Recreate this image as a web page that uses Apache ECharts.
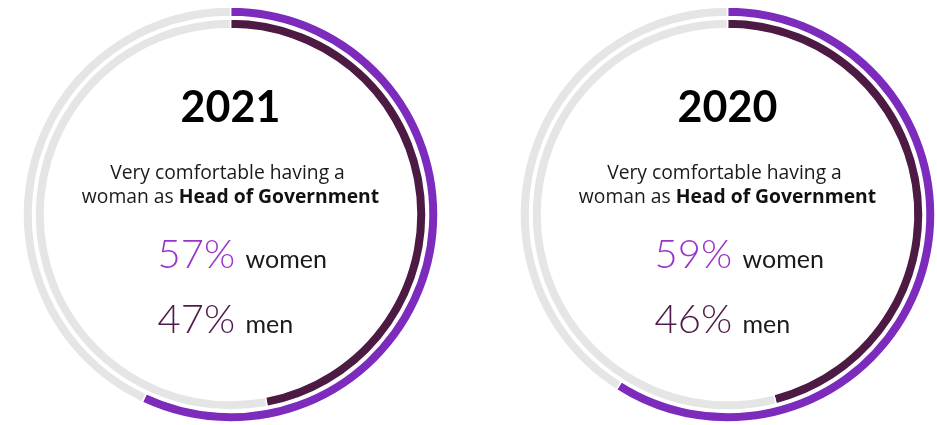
<!DOCTYPE html>
<html>
<head>
<meta charset="utf-8">
<script src="https://cdn.jsdelivr.net/npm/echarts@6/dist/echarts.min.js"></script>
<style>
  html, body { margin: 0; padding: 0; background: #fff; }
  #chart { width: 937px; height: 425px; }
</style>
</head>
<body>
<div id="chart"></div>
<script>
// data
const years = ['2021', '2020']
const womenPct = [57, 59]
const menPct = [47, 46]
const groups = ['women', 'men']

const centersX = [230.5, 727.5]
const centerY = 214.5
const purple = '#7d2bbd'
const darkPurple = '#4d1a44'
const track = '#e5e5e5'
const womenText = '#9a35c8'
const menText = '#4d1a4b'
const font = 'Lato'
const bodyFont = '"Open Sans"'

const chart = echarts.init(document.getElementById('chart'))

const ring = (cx, value, color, r0, r1) => ({
  type: 'pie',
  silent: true,
  center: [cx, centerY],
  radius: [r0, r1],
  startAngle: 90,
  clockwise: true,
  label: { show: false },
  labelLine: { show: false },
  emphasis: { disabled: true },
  itemStyle: { borderColor: '#fff', borderWidth: 1.5 },
  data: [
    { value: value, itemStyle: { color: color } },
    { value: 100 - value, itemStyle: { color: track } }
  ]
})

let series = []
let graphic = []
years.forEach((y, i) => {
  const cx = centersX[i]
  series.push(ring(cx, womenPct[i], purple, 198, 207.5))
  series.push(ring(cx, menPct[i], darkPurple, 186, 195.5))

  graphic.push({
    type: 'text', x: cx, y: 108,
    style: { text: y, font: 'bold 43px ' + font, fill: '#000', align: 'center', verticalAlign: 'middle' }
  })
  graphic.push({
    type: 'text', x: cx - 3, y: 174,
    style: { text: 'Very comfortable having a', font: '19.3px ' + bodyFont, fill: '#1a1a1a', align: 'center', verticalAlign: 'middle' }
  })
  graphic.push({
    type: 'text', x: cx, y: 198,
    style: {
      text: '{n|woman as }{b|Head of Government}',
      align: 'center', verticalAlign: 'middle',
      rich: {
        n: { font: '19.3px ' + bodyFont, fill: '#1a1a1a' },
        b: { font: 'bold 19.3px ' + bodyFont, fill: '#111' }
      }
    }
  })
  const vals = [womenPct[i], menPct[i]]
  const cols = [womenText, menText]
  const ys = [255, 320]
  groups.forEach((g, k) => {
    graphic.push({
      type: 'text', x: cx - 73, y: ys[k],
      style: { text: vals[k] + '%', font: '300 40px ' + font, fill: cols[k], align: 'left', verticalAlign: 'middle' }
    })
    graphic.push({
      type: 'text', x: cx + 15, y: ys[k] + 5,
      style: { text: g, font: '25px ' + font, fill: '#1a1a1a', align: 'left', verticalAlign: 'middle' }
    })
  })
})

chart.setOption({
  animation: false,
  series: series,
  graphic: graphic
})
</script>
</body>
</html>
